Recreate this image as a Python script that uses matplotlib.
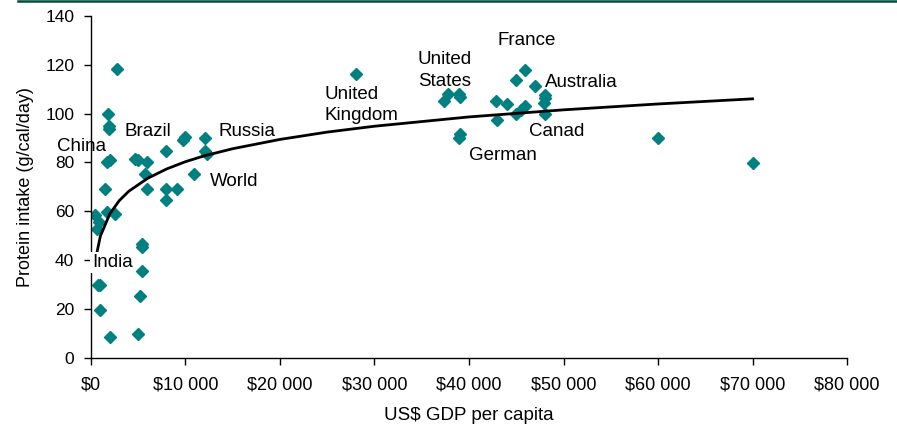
#! /usr/bin/env python3

import matplotlib
matplotlib.use("Agg")
import matplotlib.pyplot as plt
from matplotlib.ticker import FuncFormatter

# GDP per capita (US$) and protein intake
gdp = [2800, 1850, 1900, 1900, 1650, 2000, 4700, 5000, 5900, 7950,
       9700, 10000, 12100, 12100, 12300, 5700, 10900, 1450, 5900, 7900,
       9100, 7950, 450, 900, 600, 1650, 2550, 5350, 5350, 5450,
       700, 950, 5150, 950, 2000, 5000,
       28000, 37800, 38900, 39000, 37400, 39100, 38900,
       45900, 45000, 47000, 48000, 48000, 47900, 42900, 44000,
       45900, 45500, 45000, 43000, 48000, 60000, 70000]
protein = [118, 99.7, 95, 93.8, 80.1, 80.8, 81.5, 80.8, 80.1, 84.6,
           89.3, 90.3, 90.1, 84.6, 83.6, 75.1, 75.1, 69.3, 69.3, 69.3,
           69.3, 64.6, 58.3, 55.5, 52.8, 59.7, 59.0, 46.6, 45.5, 35.4,
           29.9, 29.9, 25.3, 19.6, 8.6, 9.7,
           116, 108.1, 108.1, 106.7, 105, 91.7, 89.9,
           117.8, 113.9, 111.2, 107.7, 106.2, 104.4, 105, 103.9,
           102.9, 101.6, 100, 97.5, 100, 90, 79.8]

# logarithmic trend line
trend_gdp = [500, 1000, 2000, 3000, 4000, 6000, 8000, 10000, 12000, 15000,
             20000, 25000, 30000, 40000, 50000, 60000, 70000]
trend_protein = [40.7, 49.9, 59.0, 64.4, 68.2, 73.5, 77.3, 80.3, 82.7, 85.6,
                 89.4, 92.4, 94.8, 98.6, 101.5, 103.9, 106.0]

# country labels: text, gdp, protein (left edge, vertical centre)
label_text = ["China", "Brazil", "Russia", "World", "India", "United\nKingdom",
              "United\nStates", "France", "Australia", "Canad", "German"]
label_gdp = [-3600, 3500, 13500, 12550, 150, 24700, 34600, 43000, 48000, 46300, 40000]
label_protein = [86.6, 92.8, 92.8, 72.0, 39.0, 103.4, 117.5, 130.0, 112.7, 92.8, 82.9]

xticks = [0, 10000, 20000, 30000, 40000, 50000, 60000, 70000, 80000]
yticks = [0, 20, 40, 60, 80, 100, 120, 140]

plt.rcParams['font.family'] = ['Liberation Sans', 'DejaVu Sans']

fig = plt.figure(figsize=(8.97, 4.30), dpi=100)
ax = fig.add_axes([0.1014, 0.1674, 0.9443 - 0.1014, 0.9635 - 0.1674])

# dark green rule along the top
fig.add_artist(plt.Line2D([18 / 897, 1.0], [1 - 1 / 430, 1 - 1 / 430],
                          transform=fig.transFigure, color='#004d3a', linewidth=1.8))

ax.plot(gdp, protein, linestyle='none', marker='D', markersize=5.8,
        color='#008080', zorder=3)
ax.plot(trend_gdp, trend_protein, color='black', linewidth=2.0, zorder=3)

for t, gx, py in zip(label_text, label_gdp, label_protein):
    if t == "India":
        ax.text(gx, py, t, fontsize=13.5, ha='left', va='center', zorder=6,
                clip_on=False,
                bbox=dict(facecolor='white', edgecolor='none', pad=1.5))
    else:
        ax.text(gx, py, t, fontsize=13.5, ha='left', va='center', zorder=4,
                linespacing=1.35, clip_on=False)

ax.set_xlim(0, 80000)
ax.set_ylim(0, 140)
ax.set_xticks(xticks)
ax.set_yticks(yticks)
ax.xaxis.set_major_formatter(FuncFormatter(
    lambda v, p: "$" + format(int(v), ",").replace(",", " ")))
ax.tick_params(axis='x', labelsize=13, length=5, width=1, pad=8)
ax.tick_params(axis='y', labelsize=12.5, length=5, width=1, pad=7)

for s in ['top', 'right']:
    ax.spines[s].set_visible(False)
for s in ['left', 'bottom']:
    ax.spines[s].set_linewidth(1)
    ax.spines[s].set_zorder(5)

ax.set_xlabel("US$ GDP per capita", fontsize=13.5, labelpad=10)
ax.set_ylabel("Protein intake (g/cal/day)", fontsize=13, labelpad=8)

fig.savefig("out.png", dpi=100)
